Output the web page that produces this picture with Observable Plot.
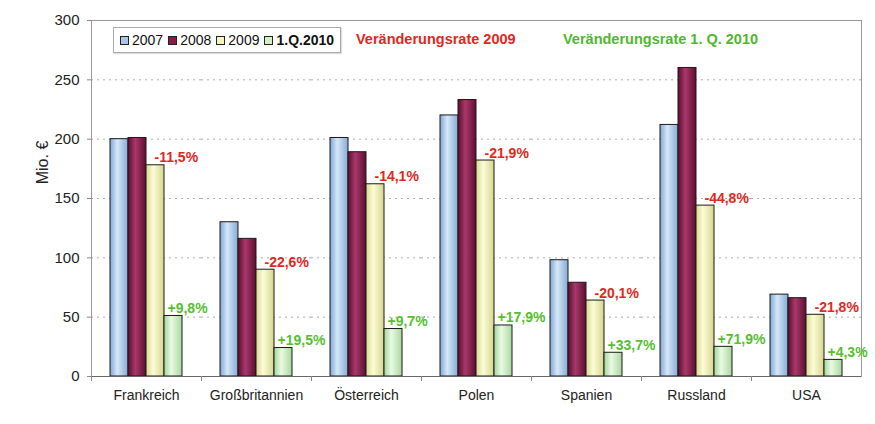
<!DOCTYPE html>
<html>
<head>
<meta charset="utf-8">
<script src="https://cdn.jsdelivr.net/npm/d3@7"></script>
<script src="https://cdn.jsdelivr.net/npm/@observablehq/plot@0.6"></script>
<style>
  body { margin: 0; background: #fff; font-family: "Liberation Sans", Arial, sans-serif; }
  #wrap { position: relative; width: 875px; height: 424px; }
  #legend { position: absolute; left: 113px; top: 27px; height: 24px; border: 1px solid #aaa; background: #fff;
    display: inline-flex; align-items: center; font-size: 14px; color: #111; box-shadow: 1px 1px 1px #ddd; padding: 0 6px 0 1px; }
  #legend .it { display: flex; align-items: center; margin-left: 5px; }
  #legend .sw { width: 7px; height: 7px; border: 1px solid #222; margin-right: 3px; }
  .head { position: absolute; top: 31px; font-size: 14.5px; font-weight: bold; }
</style>
</head>
<body>
<div id="wrap">
  <div id="chart"></div>
  <div id="legend"></div>
  <div class="head" id="h1" style="left:356px;color:#e0281e"></div>
  <div class="head" id="h2" style="left:563px;color:#4fb82e"></div>
</div>
<script>
const countries = ["Frankreich", "Großbritannien", "Österreich", "Polen", "Spanien", "Russland", "USA"];
const series = ["2007", "2008", "2009", "1.Q.2010"];
const v2007 = [200, 130, 201, 220, 98, 212, 69];
const v2008 = [201, 116, 189, 233, 79, 260, 66];
const v2009 = [178, 90, 162, 182, 64, 144, 52];
const vQ1 = [51, 24, 40, 43, 20, 25, 14];
const rate2009 = ["-11,5%", "-22,6%", "-14,1%", "-21,9%", "-20,1%", "-44,8%", "-21,8%"];
const rateQ1 = ["+9,8%", "+19,5%", "+9,7%", "+17,9%", "+33,7%", "+71,9%", "+4,3%"];
const yTicks = [0, 50, 100, 150, 200, 250, 300];
const legendTitle2009 = "Veränderungsrate 2009";
const legendTitleQ1 = "Veränderungsrate 1. Q. 2010";
const yLabel = "Mio. €";

const swatch = ["#a9c6ea", "#8a1a48", "#f5f5bf", "#d3efc6"];
const grads = [
  ["#7fa6d6", "#d6e7f8", "#86aad6"],
  ["#5c0c2e", "#a8386a", "#5e0f31"],
  ["#d9d98f", "#fcfcd8", "#d6d68e"],
  ["#a4d69a", "#eafae4", "#a8d89e"]
];

const valuesBySeries = [v2007, v2008, v2009, vQ1];
const table = [];
countries.forEach((c, i) => series.forEach((s, j) => table.push({country: c, series: s, value: valuesBySeries[j][i]})));
const labels = countries.map((c, i) => ({country: c, v2009: v2009[i], vQ1: vQ1[i], r2009: rate2009[i], rQ1: rateQ1[i]}));

const defs = () => {
  const d = d3.create("svg:defs");
  grads.forEach((g, k) => {
    const lg = d.append("linearGradient").attr("id", "grad" + k).attr("x1", "0").attr("x2", "1").attr("y1", "0").attr("y2", "0");
    lg.append("stop").attr("offset", "0%").attr("stop-color", g[0]);
    lg.append("stop").attr("offset", "40%").attr("stop-color", g[1]);
    lg.append("stop").attr("offset", "100%").attr("stop-color", g[2]);
  });
  return d.node();
};

const chart = Plot.plot({
  width: 875,
  height: 424,
  marginLeft: 90,
  marginRight: 13,
  marginTop: 20,
  marginBottom: 48,
  style: {fontFamily: "'Liberation Sans', Arial, sans-serif", fontSize: "14px", color: "#222", background: "#fff"},
  fx: {domain: countries, padding: 0, label: null},
  x: {domain: series, paddingInner: 0, paddingOuter: 1.05, axis: null},
  y: {domain: [0, 300], label: null},
  color: {domain: series, range: grads.map((g, k) => `url(#grad${k})`)},
  marks: [
    defs,
    Plot.gridY(yTicks.filter(t => t > 0 && t < 300), {stroke: "#999", strokeOpacity: 0.8, strokeDasharray: "2,4"}),
    Plot.frame({facet: "super", stroke: "#999"}),
    Plot.barY(table, {fx: "country", x: "series", y: "value", fill: "series", stroke: "#1a1a1a", strokeWidth: 1}),
    Plot.ruleY([0], {stroke: "#666"}),
    Plot.axisY(yTicks, {tickSize: 4, tickPadding: 8, fontSize: 15, stroke: "#888", label: null}),
    Plot.axisFx({anchor: "bottom", tickSize: 0, tickPadding: 14, fontSize: 14, label: null}),
    Plot.axisFx({anchor: "bottom", tickSize: 5, tickFormat: () => "", dx: -55, stroke: "#888", label: null}),
    Plot.text(labels, {fx: "country", x: () => "2009", y: "v2009", text: "r2009", textAnchor: "start", lineAnchor: "bottom", dy: -3, dx: -1, fill: "#e0281e", fontWeight: "bold", fontSize: 14}),
    Plot.text(labels, {fx: "country", x: () => "1.Q.2010", y: "vQ1", text: "rQ1", textAnchor: "start", lineAnchor: "bottom", dy: -3, dx: -6, fill: "#55bf30", fontWeight: "bold", fontSize: 14}),
    Plot.text([yLabel], {facet: "super", frameAnchor: "left", text: d => d, rotate: -90, textAnchor: "middle", dx: -49, dy: -36, fontSize: 16, fill: "#222"})
  ]
});
document.getElementById("chart").appendChild(chart);

const leg = document.getElementById("legend");
series.forEach((s, k) => {
  const it = document.createElement("div");
  it.className = "it";
  const sw = document.createElement("div");
  sw.className = "sw";
  sw.style.background = swatch[k];
  const t = document.createElement("span");
  t.textContent = s;
  if (k === 3) t.style.fontWeight = "bold";
  it.appendChild(sw); it.appendChild(t);
  leg.appendChild(it);
});
document.getElementById("h1").textContent = legendTitle2009;
document.getElementById("h2").textContent = legendTitleQ1;
</script>
</body>
</html>
